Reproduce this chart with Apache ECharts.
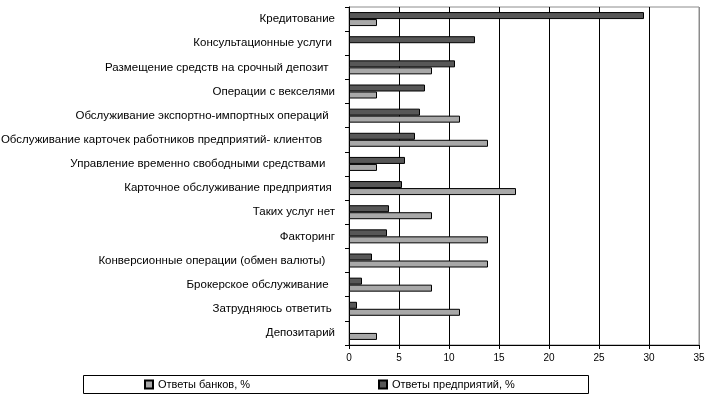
<!DOCTYPE html>
<html>
<head>
<meta charset="utf-8">
<script src="https://cdn.jsdelivr.net/npm/echarts@6/dist/echarts.min.js"></script>
<style>html,body{margin:0;padding:0;background:#fff;}#c{width:709px;height:398px;}</style>
</head>
<body>
<div id="c"></div>
<script>
var categories = [
  'Кредитование',
  'Консультационные услуги ',
  'Размещение средств на срочный депозит  ',
  'Операции с векселями',
  'Обслуживание экспортно-импортных операций  ',
  'Обслуживание карточек работников предприятий- клиентов    ',
  'Управление временно свободными средствами   ',
  'Карточное обслуживание предприятия ',
  'Таких услуг нет',
  'Факторинг',
  'Конверсионные операции (обмен валюты)   ',
  'Брокерское обслуживание  ',
  'Затрудняюсь ответить ',
  'Депозитарий'
];
var banks = [2.8, 0, 8.3, 2.8, 11.1, 13.9, 2.8, 16.7, 8.3, 13.9, 13.9, 8.3, 11.1, 2.8];
var enterprises = [29.5, 12.6, 10.6, 7.6, 7.1, 6.6, 5.6, 5.3, 4.0, 3.8, 2.3, 1.3, 0.8, 0];
var xTicks = [0, 5, 10, 15, 20, 25, 30, 35];
var bankName = 'Ответы банков, %';
var entName = 'Ответы предприятий, %';

function noZero(arr) { return arr.map(function (v) { return v === 0 ? '-' : v; }); }

var FONT = '"Liberation Sans", Arial, sans-serif';
var chart = echarts.init(document.getElementById('c'), null, {renderer: 'canvas'});
chart.setOption({
  animation: false,
  backgroundColor: '#fff',
  textStyle: {fontFamily: FONT},
  grid: {left: 349, right: 10, top: 7, bottom: 53, show: true, borderColor: '#8c8c8c', borderWidth: 1, backgroundColor: '#fff', containLabel: false, outerBoundsMode: 'none'},
  xAxis: {
    type: 'value', min: xTicks[0], max: xTicks[xTicks.length - 1], interval: 5,
    axisLine: {show: true, lineStyle: {color: '#000', width: 1}},
    axisTick: {show: true, length: 4, lineStyle: {color: '#000'}},
    axisLabel: {color: '#000', fontSize: 10, margin: 8, fontFamily: FONT},
    splitLine: {show: true, lineStyle: {color: ['#000', '#000', '#000', '#000', '#000', '#000', '#000', '#8c8c8c'], width: 1}}
  },
  yAxis: {
    type: 'category', data: categories, inverse: true,
    axisLine: {show: true, lineStyle: {color: '#000', width: 1}},
    axisTick: {show: true, length: 4, lineStyle: {color: '#000'}},
    axisLabel: {color: '#000', fontSize: 11.5, margin: 14, fontFamily: FONT},
    splitLine: {show: false}
  },
  legend: [
    {data: [bankName], left: 144, top: 379, itemWidth: 8, itemHeight: 8, icon: 'rect', textStyle: {color: '#000', fontSize: 11, fontFamily: FONT}, padding: 0},
    {data: [entName], left: 378, top: 379, itemWidth: 8, itemHeight: 8, icon: 'rect', textStyle: {color: '#000', fontSize: 11, fontFamily: FONT}, padding: 0}
  ],
  graphic: [{
    type: 'rect', left: 83, top: 375, z: -1,
    shape: {x: 0, y: 0, width: 505, height: 18},
    style: {fill: '#fff', stroke: '#000', lineWidth: 1}
  }],
  series: [
    {name: entName, type: 'bar', data: noZero(enterprises), barWidth: 7, barGap: '0%',
     itemStyle: {color: '#575757', borderColor: '#000', borderWidth: 1}},
    {name: bankName, type: 'bar', data: noZero(banks), barWidth: 7, barGap: '0%',
     itemStyle: {color: '#a8a8a8', borderColor: '#000', borderWidth: 1}}
  ]
});
</script>
</body>
</html>
